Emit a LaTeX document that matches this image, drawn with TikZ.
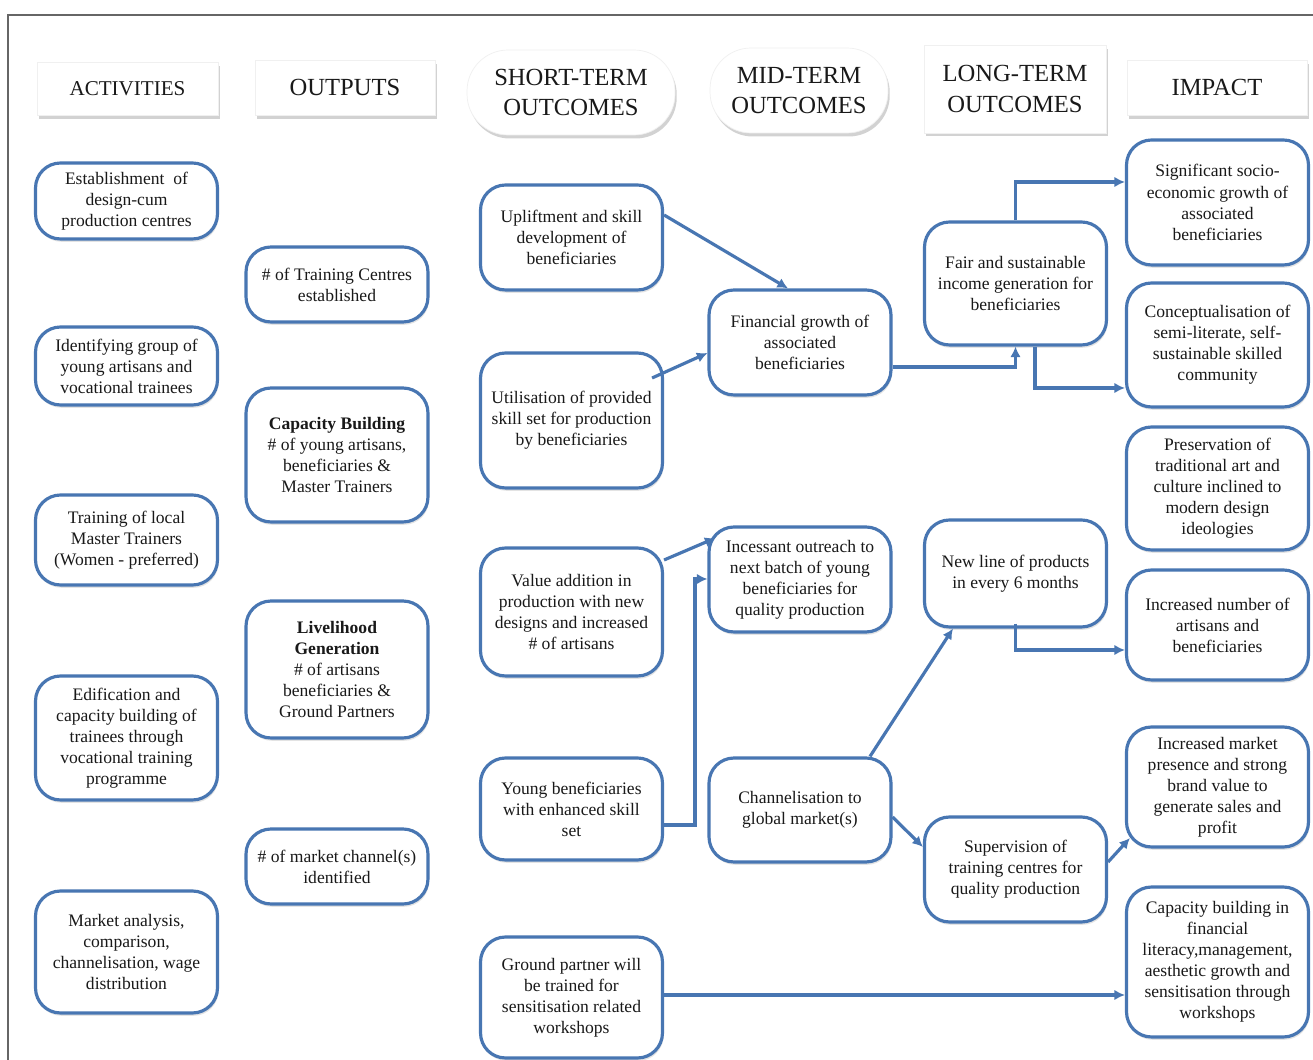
\documentclass[tikz,border=0pt]{standalone}
\usepackage{fontspec}
\setmainfont{Liberation Serif}
\usetikzlibrary{arrows.meta,shadows,calc}
\definecolor{boxblue}{RGB}{72,118,178}
\definecolor{txt}{RGB}{25,25,25}
\begin{document}
\begin{tikzpicture}[x=0.02cm,y=-0.02cm,
  box/.style={draw=boxblue, line width=1.8pt, rounded corners=0.5cm, fill=white, align=center, text=txt,
    font=\fontsize{10}{12}\selectfont, minimum width=3.64cm, inner sep=2pt,
    drop shadow={opacity=0.22, shadow xshift=0.6pt, shadow yshift=-1.6pt}},
  hdr/.style={fill=white, draw=black!6, align=center, text=txt, font=\fontsize{14}{17.5}\selectfont,
    drop shadow={opacity=0.35, shadow xshift=1pt, shadow yshift=-2pt}},
  arr/.style={draw=boxblue, line width=1.8pt, -{Latex[length=6pt,width=6pt]}},
]
\useasboundingbox (0,0) rectangle (1313,1060);
\fill[white] (0,0) rectangle (1313,1060);
\draw[black!60, line width=1.5pt] (8,1060) -- (8,15) -- (1313,15);

% headers
\node[hdr, minimum width=3.62cm, minimum height=1.06cm, font=\fontsize{12}{14}\selectfont] (h1) at (127.5,88.5) {ACTIVITIES};
\node[hdr, minimum width=3.6cm, minimum height=1.1cm] (h2) at (345,87.5) {OUTPUTS};
\node[hdr, rounded corners=0.82cm, minimum width=4.16cm, minimum height=1.7cm] (h3) at (571,92.5) {SHORT-TERM\\OUTCOMES};
\node[hdr, rounded corners=0.82cm, minimum width=3.56cm, minimum height=1.7cm] (h4) at (799,90.5) {MID-TERM\\OUTCOMES};
\node[hdr, minimum width=3.64cm, minimum height=1.76cm] (h5) at (1015,89) {LONG-TERM\\OUTCOMES};
\node[hdr, minimum width=3.6cm, minimum height=1.1cm] (h6) at (1217,87.5) {IMPACT};

% activities
\node[box, minimum height=1.52cm] (A1) at (126.5,201) {Establishment\ \ of\\design-cum\\production centres};
\node[box, minimum height=1.56cm] (A2) at (126.5,366) {Identifying group of\\young artisans and\\vocational trainees};
\node[box, minimum height=1.8cm] (A3) at (126.5,540) {Training of local\\Master Trainers\\(Women - preferred)};
\node[box, minimum height=2.48cm] (A4) at (126.5,738) {Edification and\\capacity building of\\trainees through\\vocational training\\programme};
\node[box, minimum height=2.44cm] (A5) at (126.5,952) {Market analysis,\\comparison,\\channelisation, wage\\distribution};

% outputs
\node[box, minimum height=1.5cm] (O1) at (337,284.5) {\# of Training Centres\\established};
\node[box, minimum height=2.68cm] (O2) at (337,455) {\textbf{Capacity Building}\\\# of young artisans,\\beneficiaries \&\\Master Trainers};
\node[box, minimum height=2.74cm] (O3) at (337,669.5) {\textbf{Livelihood}\\\textbf{Generation}\\\# of artisans\\beneficiaries \&\\Ground Partners};
\node[box, minimum height=1.5cm] (O4) at (337,866.5) {\# of market channel(s)\\identified};

% short-term
\node[box, minimum height=2.1cm] (S1) at (571.5,237.5) {Upliftment and skill\\development of\\beneficiaries};
\node[box, minimum height=2.7cm] (S2) at (571.5,420.5) {Utilisation of provided\\skill set for production\\by beneficiaries};
\node[box, minimum height=2.56cm] (S3) at (571.5,612) {Value addition in\\production with new\\designs and increased\\\# of artisans};
\node[box, minimum height=2.04cm] (S4) at (571.5,809) {Young beneficiaries\\with enhanced skill\\set};
\node[box, minimum height=2.42cm] (S5) at (571.5,997.5) {Ground partner will\\be trained for\\sensitisation related\\workshops};

% mid-term
\node[box, minimum height=2.1cm] (M1) at (800,342.5) {Financial growth of\\associated\\beneficiaries};
\node[box, minimum height=2.1cm] (M2) at (800,579.5) {Incessant outreach to\\next batch of young\\beneficiaries for\\quality production};
\node[box, minimum height=2.08cm] (M3) at (800,810) {Channelisation to\\global market(s)};

% long-term
\node[box, minimum height=2.46cm] (L1) at (1015.5,283.5) {Fair and sustainable\\income generation for\\beneficiaries};
\node[box, minimum height=2.14cm] (L2) at (1015.5,573.5) {New line of products\\in every 6 months};
\node[box, minimum height=2.1cm] (L3) at (1015.5,869.5) {Supervision of\\training centres for\\quality production};

% impact
\node[box, minimum height=2.5cm] (I1) at (1217.5,202.5) {Significant socio-\\economic growth of\\associated\\beneficiaries};
\node[box, minimum height=2.48cm] (I2) at (1217.5,345) {Conceptualisation of\\semi-literate, self-\\sustainable skilled\\community};
\node[box, minimum height=2.46cm] (I3) at (1217.5,488.5) {Preservation of\\traditional art and\\culture inclined to\\modern design\\ideologies};
\node[box, minimum height=2.2cm] (I4) at (1217.5,625) {Increased number of\\artisans and\\beneficiaries};
\node[box, minimum height=2.4cm] (I5) at (1217.5,787) {Increased market\\presence and strong\\brand value to\\generate sales and\\profit};
\node[box, minimum height=3.0cm] (I6) at (1217.5,962) {Capacity building in\\financial\\literacy,management,\\aesthetic growth and\\sensitisation through\\workshops};

% connectors
\draw[arr] (S1.east |- 0,215) -- (M1.north -| 788,0);
\draw[arr] ($(S2.east |- 0,378)+(-12,0)$) -- (M1.west |- 0,353);
\draw[arr] (M1.east |- 0,367) -| (L1.south);
\draw[arr] (L1.north) |- (I1.west |- 0,182);
\draw[arr] (L1.south -| 1035,0) |- (I2.west |- 0,388);
\draw[arr] (S3.east |- 0,560) -- ($(M2.west |- 0,538)+(8,0)$);
\draw[arr] (S4.east |- 0,825) -- ++(31,0) |- (M2.west |- 0,579);
\draw[arr] (M3.north -| 870,0) -- (L2.south -| 953,0);
\draw[arr] ($(L2.south)+(0,-5)$) |- (I4.west |- 0,650);
\draw[arr] (M3.east |- 0,817) -- (L3.west |- 0,847);
\draw[arr] (L3.east |- 0,862) -- ($(I5.west |- 0,838)+(5,0)$);
\draw[arr] (S5.east |- 0,995) -- (I6.west |- 0,995);
\end{tikzpicture}
\end{document}
